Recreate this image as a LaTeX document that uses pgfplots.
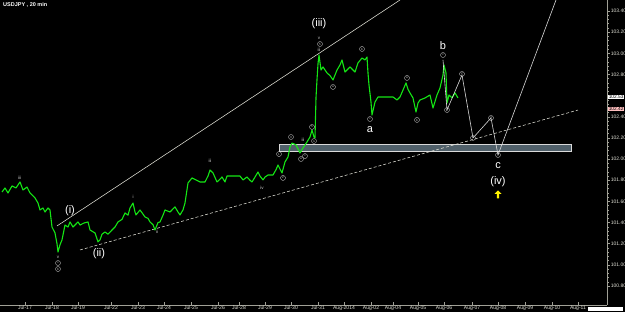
\documentclass[border=0pt]{standalone}
\usepackage{pgfplots}
\pgfplotsset{compat=1.18}
\usepackage{fontspec}
\setmainfont{Liberation Sans}
\usetikzlibrary{shapes.arrows}
\definecolor{pricegreen}{RGB}{20,230,20}
\definecolor{zonefill}{RGB}{80,96,106}
\definecolor{axgray}{RGB}{160,160,150}
\definecolor{lblgray}{RGB}{225,225,215}
\definecolor{wavegray}{RGB}{200,200,200}
\tikzset{
  circ/.style={circle, draw=wavegray, line width=0.35pt, inner sep=0.2pt, minimum size=5pt, font=\fontsize{3}{3}\selectfont, text=wavegray},
  big/.style={text=white, font=\fontsize{11}{12}\selectfont, inner sep=0pt},
  small/.style={text=wavegray, font=\fontsize{4.5}{4.5}\selectfont, inner sep=0pt},
}
\begin{document}
\begin{tikzpicture}
\fill[black] (0,-7pt) rectangle (625pt,305pt);
\begin{axis}[
  name=ax, scale only axis, width=607pt, height=305pt,
  xmin=0, xmax=607, ymin=100.621, ymax=103.504,
  axis x line=bottom, axis y line=right,
  axis line style={-, axgray, line width=0.7pt},
  clip=false,
  xtick={25,52,78,111,138,164,191,218,239,265,291,318,344,371,393,418,444,472,498,525,552,578},
  xticklabels={Jul-17,Jul-18,Jul-19,Jul-22,Jul-23,Jul-24,Jul-25,Jul-26,Jul-28,Jul-29,Jul-30,Jul-31,Aug-2014,Aug-02,Aug-04,Aug-05,Aug-06,Aug-07,Aug-08,Aug-09,Aug-10,Aug-11},
  ytick={100.8,101.0,101.2,101.4,101.6,101.8,102.0,102.2,102.4,102.6,102.8,103.0,103.2,103.4},
  yticklabels={100.80,101.00,101.20,101.40,101.60,101.80,102.00,102.20,102.40,,102.80,103.00,103.20,103.40},
  minor y tick num=4,
  tick style={axgray, line width=0.5pt},
  major tick length=2.5pt, minor tick length=1.5pt,
  xtick align=inside, ytick align=outside,
  x tick label style={font=\fontsize{5}{5.5}\selectfont, text=lblgray, inner sep=0.8pt},
  y tick label style={font=\fontsize{5}{5.5}\selectfont, text=lblgray, inner sep=1.2pt},
]
% support zone
\draw[fill=zonefill, draw=white!85!black, line width=0.8pt] (axis cs:279,102.143) rectangle (axis cs:571,102.077);
% channel lines
\addplot[lblgray, line width=0.55pt] coordinates {(57,101.368) (400,103.504)};
\addplot[lblgray, line width=0.55pt, dash pattern=on 3pt off 2pt] coordinates {(80,101.141) (578,102.464)};
% price
\addplot[pricegreen, line width=1.1pt, line join=round] coordinates {
(2,101.689) (5,101.727) (8,101.680) (12,101.746) (16,101.727) (20,101.784) (23,101.708) (27,101.736) (30,101.680)
(35,101.633) (38,101.585) (40,101.519) (43,101.538) (45,101.500) (48,101.538) (50,101.519) (52,101.358) (55,101.302)
(57,101.200) (58,101.122) (60,101.190) (62,101.236) (65,101.377) (68,101.358) (70,101.406) (73,101.358) (75,101.377)
(78,101.406) (80,101.377) (84,101.396) (88,101.406) (90,101.330) (95,101.302) (98,101.217) (100,101.236) (102,101.290)
(105,101.311) (108,101.290) (112,101.330) (115,101.358) (118,101.406) (122,101.430) (125,101.491) (128,101.470)
(130,101.538) (133,101.585) (135,101.500) (136,101.472) (140,101.519) (143,101.480) (145,101.453) (148,101.440)
(150,101.406) (153,101.380) (155,101.330) (158,101.400) (160,101.406) (163,101.470) (165,101.519) (170,101.500)
(175,101.548) (178,101.500) (180,101.472) (183,101.520) (185,101.585) (188,101.774) (192,101.822) (196,101.803)
(200,101.784) (205,101.784) (208,101.840) (210,101.897) (213,101.869) (217,101.784) (220,101.810) (222,101.831)
(225,101.784) (227,101.840) (240,101.840) (243,101.803) (247,101.831) (250,101.800) (252,101.784) (255,101.830)
(258,101.878) (260,101.840) (263,101.803) (265,101.830) (268,101.850) (273,101.850) (276,101.900) (278,101.944)
(282,101.869) (285,101.973) (288,102.020) (290,102.115) (292,102.152) (296,102.134) (300,102.058) (303,102.105)
(307,102.162) (310,102.209) (312,102.275) (314,102.209) (315,102.200) (316,102.580) (317,102.750) (318,102.900)
(319,102.984) (321,102.842) (323,102.871) (327,102.814) (330,102.790) (333,102.748) (337,102.842) (340,102.890)
(342,102.937) (345,102.823) (350,102.871) (355,102.823) (358,102.909) (362,102.956) (365,102.937) (367,102.965)
(368,102.814) (369,102.701) (371,102.540) (372,102.417) (375,102.540) (378,102.587) (393,102.587) (397,102.559)
(400,102.587) (403,102.653) (406,102.720) (408,102.660) (410,102.625) (413,102.578) (416,102.445) (418,102.530)
(420,102.559) (425,102.578) (430,102.606) (433,102.483) (437,102.606) (440,102.672) (443,102.795) (444,102.890)
(446,102.814) (447,102.530) (449,102.606) (452,102.578) (455,102.625) (458,102.578)
};
% projected path
\addplot[white!85!black, line width=0.6pt] coordinates {(443,102.937) (447,102.464) (462,102.795) (473,102.200) (491,102.389) (498,102.039) (556,103.504)};
% circled wave labels
\node[circ] at (axis cs:58,101.018) {c};
\node[circ] at (axis cs:58,100.961) {b};
\node[circ] at (axis cs:279,102.048) {1};
\node[circ] at (axis cs:283,101.822) {2};
\node[circ] at (axis cs:291,102.209) {3};
\node[circ] at (axis cs:301,102.001) {a};
\node[circ] at (axis cs:305,102.029) {c};
\node[circ] at (axis cs:312,102.304) {5};
\node[circ] at (axis cs:314,102.171) {iv};
\node[circ] at (axis cs:320,103.088) {5};
\node[circ] at (axis cs:333,102.682) {a};
\node[circ] at (axis cs:362,103.041) {b};
\node[circ] at (axis cs:370,102.379) {c};
\node[circ] at (axis cs:407,102.767) {a};
\node[circ] at (axis cs:417,102.370) {b};
\node[circ] at (axis cs:443,102.984) {c};
\node[circ] at (axis cs:447,102.464) {1};
\node[circ] at (axis cs:462,102.805) {2};
\node[circ] at (axis cs:473,102.200) {3};
\node[circ] at (axis cs:491,102.389) {4};
\node[circ] at (axis cs:498,102.039) {5};
% small roman labels
\node[small] at (axis cs:20,101.822) {iii};
\node[small] at (axis cs:58,101.075) {v};
\node[small] at (axis cs:133,101.642) {i};
\node[small] at (axis cs:157,101.311) {ii};
\node[small] at (axis cs:210,101.982) {iii};
\node[small] at (axis cs:262,101.727) {iv};
\node[small] at (axis cs:303,102.181) {iii};
\node[small] at (axis cs:319,103.145) {v};
\node[small] at (axis cs:319,103.031) {iii};
% big labels
\node[big] at (axis cs:70,101.510) {(i)};
\node[big] at (axis cs:99,101.103) {(ii)};
\node[big] at (axis cs:319,103.277) {(iii)};
\node[big] at (axis cs:370,102.275) {a};
\node[big] at (axis cs:443,103.069) {b};
\node[big] at (axis cs:498,101.935) {c};
\node[big] at (axis cs:498,101.784) {(iv)};
\node[single arrow, shape border rotate=90, fill=yellow, minimum height=8pt, minimum width=7pt, single arrow head extend=1.5pt, inner sep=0.6pt] at (axis cs:498,101.661) {};
% title
\node[anchor=north west, text=white, font=\fontsize{5.5}{6}\selectfont\bfseries, inner sep=0pt] at (axis cs:3,103.485) {USDJPY , 20 min};
% price markers
\node[anchor=west, fill=white, text=black, font=\fontsize{4.8}{5}\selectfont, inner sep=0.6pt] at (axis cs:608,102.587) {102.53};
\node[anchor=west, fill=pink, text=black, font=\fontsize{4.8}{5}\selectfont, inner sep=0.6pt] at (axis cs:608,102.474) {102.42};
% watermark box
\fill[white] (axis cs:588,100.602) rectangle (axis cs:623,100.564);
\end{axis}
\pgfresetboundingbox
\path[use as bounding box] (0,-7pt) rectangle (625pt,305pt);
\end{tikzpicture}
\end{document}
